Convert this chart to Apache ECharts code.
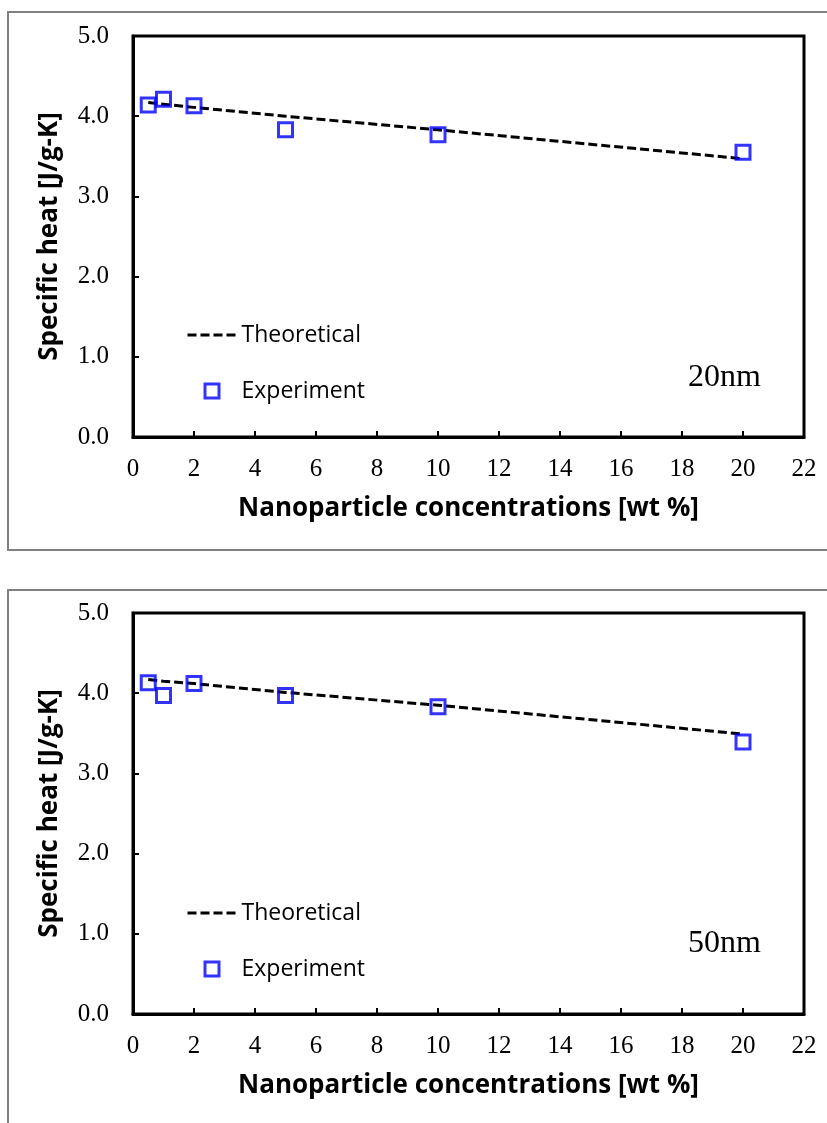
<!DOCTYPE html>
<html>
<head>
<meta charset="utf-8">
<script src="https://cdn.jsdelivr.net/npm/echarts@6/dist/echarts.min.js"></script>
<style>
  html, body { margin: 0; padding: 0; background: #fff; }
  #chart { width: 827px; height: 1123px; }
</style>
</head>
<body>
<div id="chart"></div>
<script>
// Nanoparticle mass fraction (wt %)
const concentrations = [0.5, 1, 2, 5, 10, 20];

// 20 nm particles
const theory20 = [4.17, 4.15, 4.11, 4.00, 3.83, 3.47];
const exp20 = [4.14, 4.21, 4.13, 3.83, 3.77, 3.55];

// 50 nm particles
const theory50 = [4.17, 4.15, 4.12, 4.01, 3.85, 3.49];
const exp50 = [4.13, 3.97, 4.12, 3.97, 3.83, 3.39];

const panelLabels = ['20nm', '50nm'];
const seriesNames = ['Theoretical', 'Experiment'];
const xTitle = 'Nanoparticle concentrations [wt %]';
const yTitle = 'Specific heat [J/g-K]';

const pairs = (xs, ys) => xs.map((x, i) => [x, ys[i]]);

const serif = '"Liberation Serif", "Times New Roman", serif';
const sans = '"Open Sans", "Noto Sans", sans-serif';

const dashedLine = { color: '#000', width: 3, type: [9, 4] };
const openSquare = { color: 'rgba(255,255,255,0)', borderColor: '#0000ff', borderWidth: 3 };

const panels = [
  { top: 36, theory: theory20, exp: exp20, box: 12, legendY: [335, 391], tagY: 378 },
  { top: 613, theory: theory50, exp: exp50, box: 590, legendY: [913, 969], tagY: 944 }
];

const grids = [], xAxes = [], yAxes = [], series = [], legends = [], graphics = [];

// legend square: the two move-to points span the whole 49x14 icon box,
// so the outlined square stays in the middle of it at its own size
const squareIcon = 'path://M0,0M49,14M17.5,0L31.5,0L31.5,14L17.5,14Z';

panels.forEach((p, i) => {
  grids.push({
    left: 133, top: p.top, width: 671, height: 401,
    show: true, borderColor: '#000', borderWidth: 3, backgroundColor: 'transparent'
  });
  xAxes.push({
    type: 'value', gridIndex: i, min: 0, max: 22, interval: 2,
    name: xTitle, nameLocation: 'middle', nameGap: 59,
    nameTextStyle: { fontFamily: sans, fontWeight: 'bold', fontSize: 26, color: '#000' },
    axisLine: { lineStyle: { color: '#000', width: 3 } },
    axisTick: { inside: true, length: 6, lineStyle: { color: '#000', width: 2 } },
    axisLabel: { fontFamily: serif, fontSize: 25, color: '#000', margin: 20 },
    splitLine: { show: false }
  });
  yAxes.push({
    type: 'value', gridIndex: i, min: 0, max: 5, interval: 1,
    name: yTitle, nameLocation: 'middle', nameGap: 70, nameRotate: 90,
    nameTextStyle: { fontFamily: sans, fontWeight: 'bold', fontSize: 26, color: '#000' },
    axisLine: { lineStyle: { color: '#000', width: 3 } },
    axisTick: { inside: true, length: 6, lineStyle: { color: '#000', width: 2 } },
    axisLabel: { fontFamily: serif, fontSize: 25, color: '#000', margin: 24,
                 formatter: v => v.toFixed(1) },
    splitLine: { show: false }
  });
  series.push({
    name: seriesNames[0], type: 'line', xAxisIndex: i, yAxisIndex: i,
    data: pairs(concentrations, p.theory), showSymbol: false, symbol: 'none',
    lineStyle: dashedLine, itemStyle: { color: '#000' },
    z: 2, silent: true
  });
  series.push({
    name: seriesNames[1], type: 'scatter', xAxisIndex: i, yAxisIndex: i,
    data: pairs(concentrations, p.exp), symbol: 'rect', symbolSize: 14,
    itemStyle: openSquare,
    z: 3, silent: true
  });
  // one legend block per entry so each row sits where the figure puts it
  seriesNames.forEach((name, k) => {
    const isLine = k === 0;
    legends.push({
      left: 186, top: p.legendY[k] - 12, padding: 0, itemGap: 0,
      itemWidth: 49, itemHeight: 14, selectedMode: false,
      data: [isLine ? { name } : { name, icon: squareIcon }],
      itemStyle: isLine ? { color: 'rgba(0,0,0,0)', borderWidth: 0 } : openSquare,
      lineStyle: dashedLine,
      textStyle: { fontFamily: sans, fontSize: 23, color: '#000', lineHeight: 24 }
    });
  });
  graphics.push({
    type: 'rect', shape: { x: 8, y: p.box, width: 840, height: i === 0 ? 538 : 600 },
    style: { fill: 'none', stroke: '#808080', lineWidth: 2 }, silent: true, z: -1
  });
  graphics.push({
    type: 'text', x: 688, y: p.tagY,
    style: { text: panelLabels[i], font: '32px ' + serif, fill: '#000',
             textVerticalAlign: 'middle' }
  });
});

const chart = echarts.init(document.getElementById('chart'), null, { renderer: 'canvas' });
chart.setOption({
  animation: false,
  backgroundColor: '#fff',
  grid: grids, xAxis: xAxes, yAxis: yAxes, series: series,
  legend: legends, graphic: graphics
});
</script>
</body>
</html>
